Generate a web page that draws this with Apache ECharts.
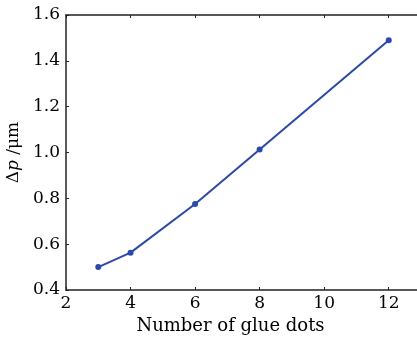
<!DOCTYPE html>
<html>
<head>
<meta charset="utf-8">
<script src="https://cdn.jsdelivr.net/npm/echarts@6/dist/echarts.min.js"></script>
<style>
  html, body { margin: 0; padding: 0; background: #fff; }
  #chart { width: 417px; height: 344px; }
</style>
</head>
<body>
<div id="chart"></div>
<script>
// glue dots vs. delta p
var glueDots = [3, 4, 6, 8, 12]
var deltaP = [0.50, 0.563, 0.775, 1.013, 1.49]
var xTicks = [2, 4, 6, 8, 10, 12]

var font = 'DejaVu Serif'
var axisColor = '#222'

var chart = echarts.init(document.getElementById('chart'))

var points = glueDots.map(function (x, i) { return [x, deltaP[i]] })

var baseX = {
    type: 'value',
    min: 2,
    max: 13,
    interval: 2,
    axisLine: { show: true, lineStyle: { color: axisColor, width: 1.5 } },
    axisTick: { show: true, inside: true, length: 3, lineStyle: { color: axisColor } },
    splitLine: { show: false }
}

var option = {
    animation: false,
    backgroundColor: '#fff',
    grid: { left: 66, right: -4, top: 15, bottom: 54, outerBoundsMode: 'none', containLabel: false },
    xAxis: [
        Object.assign({}, baseX, {
            position: 'bottom',
            name: 'Number of glue dots',
            nameLocation: 'middle',
            nameGap: 27,
            nameTextStyle: { fontFamily: font, fontSize: 18, color: '#000', padding: [0, 26, 0, 0] },
            axisLabel: {
                fontFamily: font, fontSize: 17, color: '#000', margin: 5,
                showMaxLabel: false,
                formatter: function (v) { return xTicks.indexOf(v) >= 0 ? String(v) : '' }
            }
        }),
        Object.assign({}, baseX, {
            position: 'top',
            axisLabel: { show: false }
        })
    ],
    yAxis: {
        type: 'value',
        min: 0.4,
        max: 1.6,
        interval: 0.2,
        name: '{n|Δ}{i|p}{n| /μm}',
        nameLocation: 'middle',
        nameGap: 44,
        nameTextStyle: {
            rich: {
                n: { fontFamily: font, fontSize: 17, color: '#000' },
                i: { fontFamily: font, fontSize: 17, fontStyle: 'italic', color: '#000' }
            }
        },
        axisLine: { show: true, lineStyle: { color: axisColor, width: 1.5 } },
        axisTick: { show: true, inside: true, length: 3, lineStyle: { color: axisColor } },
        splitLine: { show: false },
        axisLabel: {
            fontFamily: font, fontSize: 17, color: '#000', margin: 6,
            formatter: function (v) { return v.toFixed(1) }
        }
    },
    series: [
        {
            type: 'line',
            data: points,
            symbol: 'circle',
            symbolSize: 6,
            lineStyle: { color: '#2b48b0', width: 2 },
            itemStyle: { color: '#2b48b0' }
        }
    ]
}

chart.setOption(option)
</script>
</body>
</html>
